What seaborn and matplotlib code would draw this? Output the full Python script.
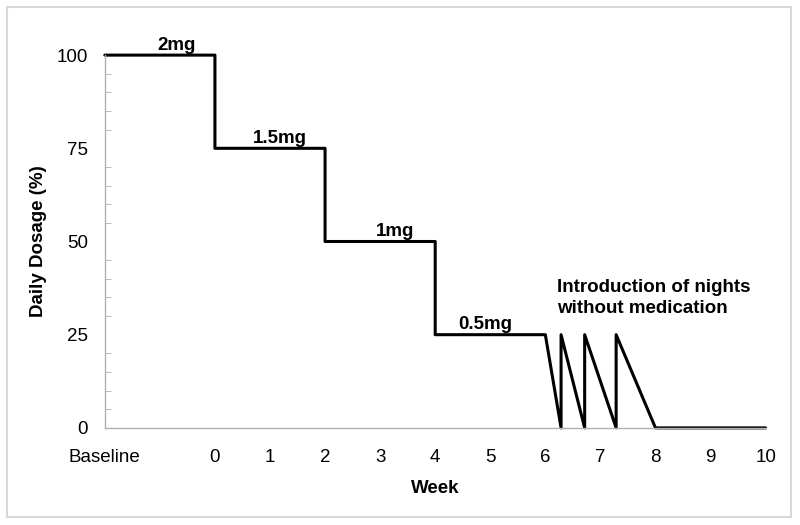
import numpy as np
import pandas as pd
import seaborn as sns
import matplotlib.pyplot as plt
from matplotlib.patches import Rectangle
from matplotlib.ticker import MultipleLocator

# dosage schedule (week, percent of daily dose); baseline sits at week -2
weeks = [-2, 0, 0, 2, 2, 4, 4, 6, 6 + 2/7, 6 + 2/7, 6 + 5/7, 6 + 5/7, 7 + 2/7, 7 + 2/7, 8, 10]
dosage = [100, 100, 75, 75, 50, 50, 25, 25, 0, 25, 0, 25, 0, 25, 0, 0]

tick_pos = [-2, -1, 0, 1, 2, 3, 4, 5, 6, 7, 8, 9, 10]
tick_labels = ['Baseline', '', '0', '1', '2', '3', '4', '5', '6', '7', '8', '9', '10']

dose_labels = ['2mg', '1.5mg', '1mg', '0.5mg']
dose_x = [-0.7, 1.18, 3.27, 4.9]
dose_y = [100, 75, 50, 25]

df = pd.DataFrame({'Week': weeks, 'Dosage': dosage})

sns.set_style('white')
plt.rcParams['font.family'] = ['Liberation Sans', 'DejaVu Sans']
plt.rcParams['text.color'] = 'black'
plt.rcParams['xtick.labelcolor'] = 'black'
plt.rcParams['ytick.labelcolor'] = 'black'
plt.rcParams['axes.labelcolor'] = 'black'

fs = 13.5

fig = plt.figure(figsize=(8, 5.25), dpi=100)
ax = fig.add_axes([0.131, 0.185, 0.826, 0.71])

sns.lineplot(data=df, x='Week', y='Dosage', sort=False, estimator=None,
             color='black', linewidth=2.2, ax=ax, clip_on=False)

ax.set_xlim(-2, 10)
ax.set_ylim(0, 100)
ax.set_xticks(tick_pos)
ax.set_xticklabels(tick_labels, fontsize=fs)
ax.set_yticks([0, 25, 50, 75, 100])
ax.set_yticklabels(['0', '25', '50', '75', '100'], fontsize=fs)
ax.yaxis.set_minor_locator(MultipleLocator(5))

for side in ['top', 'right']:
    ax.spines[side].set_visible(False)
for side in ['left', 'bottom']:
    ax.spines[side].set_color('#b0b0b0')
    ax.spines[side].set_linewidth(1)

ax.tick_params(axis='x', which='major', direction='out', length=5, color='#b0b0b0', pad=10)
ax.tick_params(axis='y', which='major', direction='out', length=4, color='#b0b0b0', pad=8)
ax.tick_params(axis='y', which='minor', direction='in', length=4, color='#b0b0b0', left=True)

ax.set_xlabel('Week', fontsize=fs, fontweight='bold', labelpad=10)
ax.set_ylabel('Daily Dosage (%)', fontsize=fs, fontweight='bold', labelpad=7)

for lab, x, y in zip(dose_labels, dose_x, dose_y):
    ax.annotate(lab, (x, y), xytext=(0, 1), textcoords='offset points',
                ha='center', va='bottom', fontsize=fs, fontweight='bold')

ax.text(6.22, 34.8, 'Introduction of nights\nwithout medication', fontsize=fs,
        fontweight='bold', ha='left', va='center', linespacing=1.3)

# light frame around the whole figure
fig.patches.append(Rectangle((0.009, 0.015), 0.98, 0.971, transform=fig.transFigure,
                             fill=False, edgecolor='#d9d9d9', linewidth=1.5))

fig.savefig('out.png', dpi=100)
